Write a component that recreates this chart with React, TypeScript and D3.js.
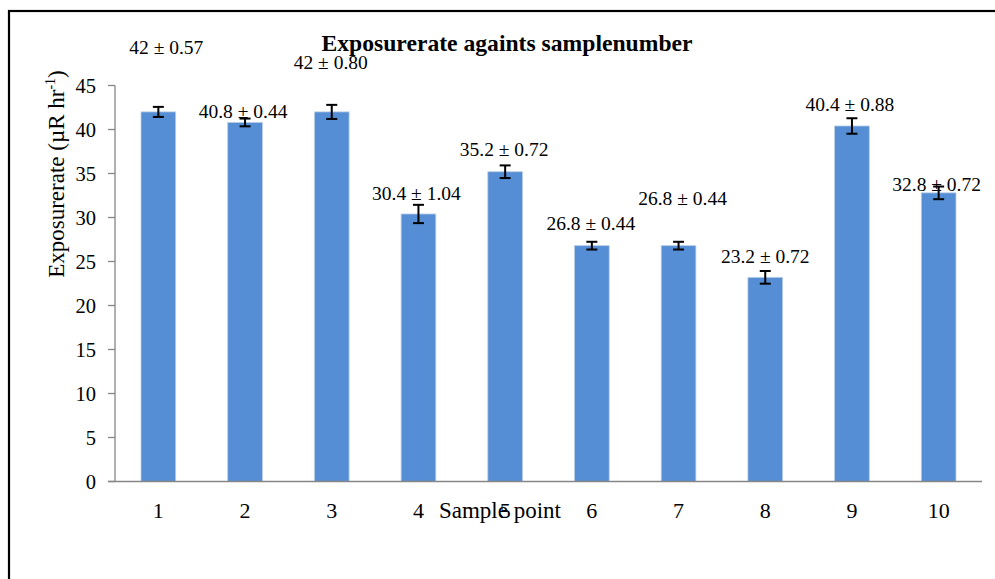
import React from "react";
import * as d3 from "d3";

const categories = ["1", "2", "3", "4", "5", "6", "7", "8", "9", "10"];
const exposureRate = [42, 40.8, 42, 30.4, 35.2, 26.8, 26.8, 23.2, 40.4, 32.8];
const errorValues = [0.57, 0.44, 0.8, 1.04, 0.72, 0.44, 0.44, 0.72, 0.88, 0.72];
const labelTexts = [
  "42 ± 0.57",
  "40.8 ± 0.44",
  "42 ± 0.80",
  "30.4 ± 1.04",
  "35.2 ± 0.72",
  "26.8 ± 0.44",
  "26.8 ± 0.44",
  "23.2 ± 0.72",
  "40.4 ± 0.88",
  "32.8 ± 0.72",
];
// label anchor heights in data units (manually placed labels in the original)
const labelLevels = [49.4, 42.1, 47.6, 32.8, 37.8, 29.4, 32.2, 25.6, 42.9, 33.8];
const yTicks = [0, 5, 10, 15, 20, 25, 30, 35, 40, 45];

const W = 995;
const H = 579;
const FONT = "'Liberation Serif', 'Times New Roman', serif";
const labelShift = [8, -2, -1, -2, -1, -1, 4, 0, -2, -2];

export default function App() {
  const x = d3
    .scaleBand<string>()
    .domain(categories)
    .range([115, 982])
    .paddingInner(0.6)
    .paddingOuter(0.3);
  const y = d3.scaleLinear().domain([0, 45]).range([481.5, 85.5]);
  const bw = x.bandwidth();
  const cx = (c: string) => (x(c) as number) + bw / 2;

  return (
    <svg
      width={W}
      height={H}
      style={{ position: "absolute", left: 0, top: 0, background: "#fff" }}
      fontFamily={FONT}
    >
      <rect x={0} y={0} width={W} height={H} fill="#fff" />
      <rect x={9} y={11} width={1000} height={600} fill="none" stroke="#000" strokeWidth={2.2} />

      {/* title */}
      <text
        x={507}
        y={51}
        textAnchor="middle"
        fontSize={24}
        fontWeight="bold"
        textLength={371}
        lengthAdjust="spacingAndGlyphs"
      >
        Exposurerate againts samplenumber
      </text>

      {/* bars */}
      {categories.map((c, i) => (
        <rect
          key={"b" + c}
          x={x(c) as number}
          y={y(exposureRate[i])}
          width={bw}
          height={y(0) - y(exposureRate[i])}
          fill="#558ed5"
          stroke="#b9cde5"
          strokeWidth={0.8}
        />
      ))}

      {/* error bars */}
      {categories.map((c, i) => {
        const xc = cx(c);
        const y1 = y(exposureRate[i] + errorValues[i]);
        const y0 = y(exposureRate[i] - errorValues[i]);
        return (
          <g key={"e" + c} stroke="#000" strokeWidth={2}>
            <line x1={xc} x2={xc} y1={y1} y2={y0} />
            <line x1={xc - 5.5} x2={xc + 5.5} y1={y1} y2={y1} />
            <line x1={xc - 5.5} x2={xc + 5.5} y1={y0} y2={y0} />
          </g>
        );
      })}

      {/* y axis */}
      <line x1={115} x2={115} y1={y(45)} y2={y(0)} stroke="#868686" strokeWidth={1.3} />
      {yTicks.map((t) => (
        <g key={"t" + t}>
          <line x1={108} x2={115} y1={y(t)} y2={y(t)} stroke="#868686" strokeWidth={1.3} />
          <text x={96} y={y(t)} dy="0.35em" textAnchor="end" fontSize={20.5}>
            {t}
          </text>
        </g>
      ))}

      {/* x axis */}
      <line x1={108} x2={982} y1={y(0)} y2={y(0)} stroke="#868686" strokeWidth={1.3} />
      {categories.map((c) => (
        <text key={"x" + c} x={cx(c)} y={518} textAnchor="middle" fontSize={22}>
          {c}
        </text>
      ))}

      {/* data labels */}
      {categories.map((c, i) => (
        <text
          key={"l" + c}
          x={cx(c) + labelShift[i]}
          y={y(labelLevels[i])}
          dy="0.35em"
          textAnchor="middle"
          fontSize={19.5}
        >
          {labelTexts[i]}
        </text>
      ))}

      {/* axis titles */}
      <text x={500} y={518} textAnchor="middle" fontSize={23}>
        Sample point
      </text>
      <text
        transform="translate(64,174) rotate(-90)"
        textAnchor="middle"
        fontSize={23}
      >
        Exposurerate (µR hr
        <tspan dy={-9} fontSize={14}>-1</tspan>
        <tspan dy={9}>)</tspan>
      </text>
    </svg>
  );
}
